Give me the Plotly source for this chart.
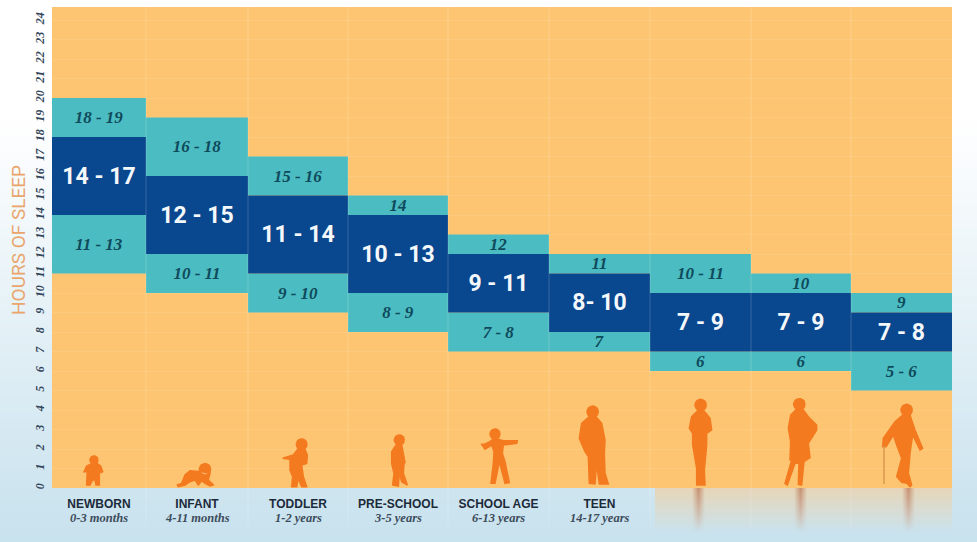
import numpy as np
import plotly.graph_objects as go

W, H = 977, 542
PLOT_LEFT, PLOT_RIGHT, PLOT_TOP, PLOT_BOTTOM = 52, 952, 7, 488
PX_PER_HOUR = 19.5
ORANGE = np.array([253, 197, 114])

edges = [52, 146, 248, 348, 448, 549, 650, 751, 851, 952]
centers = [(a + b) / 2 for a, b in zip(edges[:-1], edges[1:])]
widths = [b - a for a, b in zip(edges[:-1], edges[1:])]

names = ["NEWBORN", "INFANT", "TODDLER", "PRE-SCHOOL", "SCHOOL AGE", "TEEN", "", "", ""]
ages = ["0-3 months", "4-11 months", "1-2 years", "3-5 years", "6-13 years", "14-17 years", "", "", ""]

# (from hour, to hour, label) per age group
lower = [(11, 14, "11 - 13"), (10, 12, "10 - 11"), (9, 11, "9 - 10"), (8, 10, "8 - 9"), (7, 9, "7 - 8"),
         (7, 8, "7"), (6, 7, "6"), (6, 7, "6"), (5, 7, "5 - 6")]
recommended = [(14, 18, "14 - 17"), (12, 16, "12 - 15"), (11, 15, "11 - 14"), (10, 14, "10 - 13"), (9, 12, "9 - 11"),
               (8, 11, "8- 10"), (7, 10, "7 - 9"), (7, 10, "7 - 9"), (7, 9, "7 - 8")]
upper = [(18, 20, "18 - 19"), (16, 19, "16 - 18"), (15, 17, "15 - 16"), (14, 15, "14"), (12, 13, "12"),
         (11, 12, "11"), (10, 12, "10 - 11"), (10, 11, "10"), (9, 10, "9")]

people = [
    dict(origin=(70, 430), head=(72, 90, 12),
         body=[(66, 100), (50, 108), (42, 125), (47, 125), (52, 115), (52, 140), (50, 165), (60, 165), (68, 150),
               (75, 150), (78, 165), (88, 165), (88, 140), (88, 115), (93, 128), (98, 125), (92, 108), (80, 100)]),
    dict(origin=(70, 430), head=(405, 118, 17),
         body=[(395, 125), (360, 122), (345, 135), (335, 160), (322, 165), (325, 170), (345, 165), (360, 155),
               (375, 150), (385, 165), (395, 152), (405, 160), (420, 168), (430, 165), (415, 150), (420, 130)]),
    dict(origin=(270, 430), head=(95, 43, 16),
         body=[(85, 55), (70, 75), (38, 85), (60, 88), (60, 120), (68, 140), (65, 170), (80, 170), (85, 145),
               (95, 170), (110, 170), (100, 140), (95, 105), (110, 100), (112, 75), (105, 58)]),
    dict(origin=(270, 430), head=(388, 30, 15),
         body=[(378, 45), (365, 65), (365, 100), (372, 130), (368, 165), (385, 168), (388, 130), (395, 155),
               (412, 165), (400, 130), (402, 100), (405, 98), (398, 60), (395, 45)]),
    dict(origin=(470, 400), head=(75, 102, 15),
         body=[(68, 118), (60, 125), (45, 132), (35, 133), (45, 148), (65, 135), (72, 155), (70, 190), (63, 250),
               (75, 250), (88, 185), (105, 250), (118, 248), (105, 185), (97, 160), (100, 135), (140, 130),
               (142, 122), (100, 122), (85, 118)]),
    dict(origin=(470, 400), head=(368, 35, 17),
         body=[(358, 50), (335, 70), (328, 115), (345, 155), (355, 170), (358, 250), (375, 252), (380, 190),
               (388, 252), (415, 252), (405, 220), (403, 160), (405, 120), (395, 70), (378, 50)]),
    dict(origin=(670, 395), head=(92, 30, 17),
         body=[(85, 45), (65, 65), (58, 100), (68, 115), (68, 150), (80, 220), (80, 270), (105, 270), (103, 225),
               (110, 150), (110, 115), (125, 105), (120, 70), (102, 48)]),
    dict(origin=(670, 395), head=(388, 28, 17),
         body=[(380, 42), (362, 60), (355, 100), (362, 140), (360, 195), (365, 195), (345, 265), (352, 270),
               (375, 205), (387, 205), (385, 268), (395, 270), (402, 200), (420, 188), (415, 145), (440, 105),
               (440, 90), (415, 65), (400, 45)]),
    dict(origin=(860, 395), head=(140, 45, 17),
         body=[(128, 60), (105, 80), (70, 130), (68, 155), (78, 155), (100, 120), (110, 150), (125, 190), (110, 245),
               (125, 262), (140, 265), (150, 275), (155, 270), (145, 235), (150, 175), (158, 120), (180, 165),
               (188, 160), (165, 105), (155, 75), (150, 60)]),
]


def hours(py):
    return (PLOT_BOTTOM - py) / PX_PER_HOUR


def backdrop():
    # page gradient, orange panel, faded floor and the three reflections
    top = np.array([255.0, 255.0, 255.0])
    bottom = np.array([200.0, 226.0, 238.0])
    t = np.clip((np.arange(H) - 120) / (H - 120), 0, 1)[:, None, None]
    img = np.ones((H, W, 3)) * (top * (1 - t) + bottom * t)
    img[PLOT_TOP:PLOT_BOTTOM, PLOT_LEFT:PLOT_RIGHT] = ORANGE

    fade = np.clip(1 - (np.arange(H) - PLOT_BOTTOM) / 44, 0, 1) * 0.55
    for py in range(PLOT_BOTTOM, H):
        a = fade[py]
        img[py, 655:PLOT_RIGHT] = img[py, 655:PLOT_RIGHT] * (1 - a) + np.array([250, 200, 140]) * a
        for cx in (698, 800, 908):
            for px in range(cx - 6, cx + 7):
                s = (1 - abs(px - cx) / 6.5) * min(1, a * 1.4)
                img[py, px] = img[py, px] * (1 - s) + np.array([190, 125, 95]) * s
    return img.astype(np.uint8)


def silhouette_xy():
    xs, ys = [], []
    for person in people:
        ox, oy = person["origin"]
        hx, hy, r = person["head"]
        angle = np.linspace(0, 2 * np.pi, 24)
        for px, py in person["body"] + [person["body"][0]]:
            xs.append(ox + px / 3)
            ys.append(hours(oy + py / 3))
        xs.append(None)
        ys.append(None)
        xs.extend(ox + (hx + r * np.cos(angle)) / 3)
        ys.extend(hours(oy + (hy + r * np.sin(angle)) / 3))
        xs.append(None)
        ys.append(None)
    return xs, ys


def band(rows, color, font):
    return go.Bar(
        x=centers,
        y=[r[1] - r[0] for r in rows],
        base=[r[0] for r in rows],
        width=widths,
        text=[r[2] for r in rows],
        textposition="inside",
        insidetextanchor="middle",
        textangle=0,
        constraintext="none",
        textfont=font,
        marker=dict(color=color, line=dict(width=0)),
        xaxis="x2",
        yaxis="y2",
        showlegend=False,
    )


fig = go.Figure()
fig.add_trace(go.Image(z=backdrop(), hoverinfo="skip"))

teal_font = dict(family="Liberation Serif", size=17, color="#0f4a5c", style="italic", weight="bold")
dark_font = dict(family="Roboto", size=23, color="#f4f8fb", weight="bold")
fig.add_trace(band(lower, "#4bbcc1", teal_font))
fig.add_trace(band(upper, "#4bbcc1", teal_font))
fig.add_trace(band(recommended, "#09478f", dark_font))

sx, sy = silhouette_xy()
fig.add_trace(go.Scatter(x=sx, y=sy, mode="lines", fill="toself", fillcolor="#f47a20",
                         line=dict(color="#f47a20", width=1.5), xaxis="x2", yaxis="y2",
                         showlegend=False, hoverinfo="skip"))
# walking stick
fig.add_trace(go.Scatter(x=[884, 884], y=[hours(446), hours(484)], mode="lines",
                         line=dict(color="#d89a50", width=1.5), xaxis="x2", yaxis="y2",
                         showlegend=False, hoverinfo="skip"))

for x in edges[1:-1]:
    fig.add_shape(type="line", xref="x2", yref="paper", x0=x, x1=x, y0=1 - 527 / H, y1=1 - PLOT_TOP / H,
                  line=dict(color="rgba(255,255,255,0.18)", width=1), layer="above")

for x, age in zip(centers, ages):
    if age:
        fig.add_annotation(x=x, y=1 - 518 / H, xref="x2", yref="paper", text=age, showarrow=False,
                           xanchor="center", yanchor="middle",
                           font=dict(family="Liberation Serif", size=12.5, color="#3d4c5c", style="italic", weight="bold"))

fig.add_annotation(x=18 / W, y=1 - 240 / H, xref="paper", yref="paper", text="HOURS OF SLEEP", textangle=-90,
                   showarrow=False, xanchor="center", yanchor="middle",
                   font=dict(family="Roboto", size=19, color="#e9a56c", weight=400))

fig.update_layout(
    width=W,
    height=H,
    margin=dict(l=0, r=0, t=0, b=0),
    paper_bgcolor="white",
    plot_bgcolor="rgba(0,0,0,0)",
    barmode="overlay",
    xaxis=dict(visible=False, range=[-0.5, W - 0.5], domain=[0, 1]),
    yaxis=dict(visible=False, range=[H - 0.5, -0.5], domain=[0, 1]),
    xaxis2=dict(
        domain=[PLOT_LEFT / W, PLOT_RIGHT / W],
        range=[PLOT_LEFT, PLOT_RIGHT],
        anchor="y2",
        tickmode="array",
        tickvals=centers,
        ticktext=names,
        ticks="outside",
        ticklen=5,
        tickcolor="rgba(0,0,0,0)",
        tickfont=dict(family="Liberation Sans", size=12, color="#1c2a3a", weight="bold"),
        showgrid=False,
        zeroline=False,
        showline=False,
    ),
    yaxis2=dict(
        domain=[1 - PLOT_BOTTOM / H, 1 - PLOT_TOP / H],
        range=[0, (PLOT_BOTTOM - PLOT_TOP) / PX_PER_HOUR],
        anchor="x2",
        tickmode="array",
        tickvals=list(range(25)),
        tickangle=-90,
        ticks="outside",
        ticklen=2,
        tickcolor="rgba(0,0,0,0)",
        tickfont=dict(family="Liberation Serif", size=12, color="#33455a", style="italic", weight="bold"),
        showgrid=True,
        gridcolor="rgba(255,255,255,0.09)",
        gridwidth=1,
        zeroline=False,
        showline=False,
    ),
)

fig.write_html("out.html", config={"displayModeBar": False}, post_script="document.body.style.margin='0';")
